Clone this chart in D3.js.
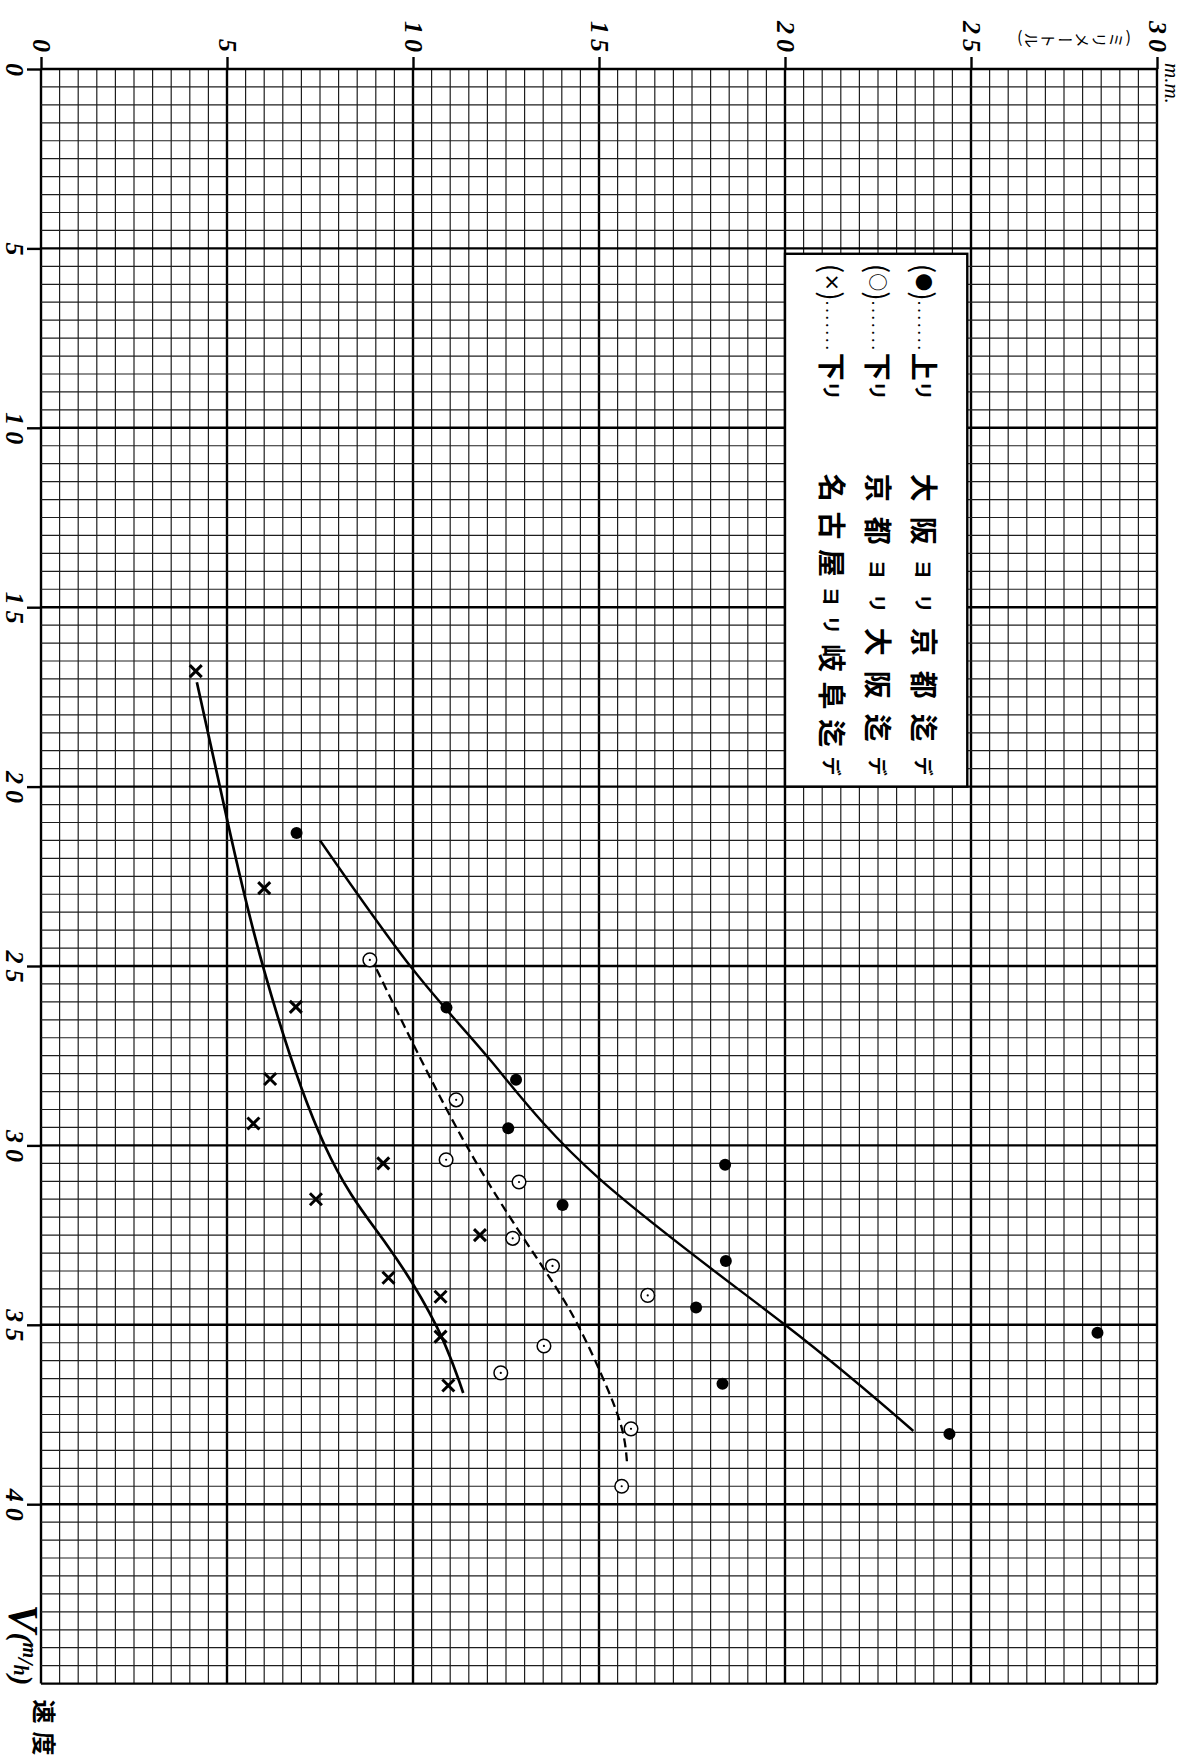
<!DOCTYPE html>
<html>
<head>
<meta charset="utf-8">
<script src="https://cdn.jsdelivr.net/npm/d3@7"></script>
<style>
  body { margin: 0; background: #fff; }
  svg { display: block; background: #fff; }
</style>
</head>
<body>
<svg></svg>
<script>
// the sheet is printed turned: speed V runs down the page, millimetres run across

const mmTicks = [0, 5, 10, 15, 20, 25, 30];
const vTicks = [0, 5, 10, 15, 20, 25, 30, 35, 40];

// (●) 上り 大阪ヨリ京都迄
const upOsakaKyoto = [
  { mm: 6.87, v: 21.29 }, { mm: 10.9, v: 26.16 }, { mm: 12.77, v: 28.17 },
  { mm: 12.56, v: 29.52 }, { mm: 18.39, v: 30.54 }, { mm: 14.02, v: 31.66 },
  { mm: 18.41, v: 33.22 }, { mm: 17.61, v: 34.52 }, { mm: 28.4, v: 35.22 },
  { mm: 18.32, v: 36.64 }, { mm: 24.42, v: 38.04 },
];

// (○) 下り 京都ヨリ大阪迄
const downKyotoOsaka = [
  { mm: 8.84, v: 24.83 }, { mm: 11.16, v: 28.73 }, { mm: 10.89, v: 30.4 },
  { mm: 12.85, v: 31.02 }, { mm: 12.68, v: 32.59 }, { mm: 13.75, v: 33.36 },
  { mm: 16.31, v: 34.18 }, { mm: 13.52, v: 35.59 }, { mm: 12.36, v: 36.34 },
  { mm: 15.86, v: 37.9 }, { mm: 15.61, v: 39.5 },
];

// (×) 下り 名古屋ヨリ岐阜迄
const downNagoyaGifu = [
  { mm: 4.16, v: 16.78 }, { mm: 6.0, v: 22.83 }, { mm: 6.85, v: 26.14 },
  { mm: 6.16, v: 28.15 }, { mm: 5.71, v: 29.39 }, { mm: 9.2, v: 30.5 },
  { mm: 7.39, v: 31.5 }, { mm: 11.8, v: 32.5 }, { mm: 9.34, v: 33.69 },
  { mm: 10.74, v: 34.22 }, { mm: 10.74, v: 35.33 }, { mm: 10.95, v: 36.69 },
];

// hand drawn curves
const curveUp = [
  { mm: 7.5, v: 21.5 }, { mm: 10.0, v: 25.1 }, { mm: 12.1, v: 27.65 },
  { mm: 15.0, v: 30.92 }, { mm: 20.0, v: 35.0 }, { mm: 23.45, v: 37.96 },
];
const curveKyoto = [
  { mm: 9.02, v: 25.09 }, { mm: 11.44, v: 30.01 }, { mm: 13.5, v: 33.41 },
  { mm: 14.46, v: 35.06 }, { mm: 15.12, v: 36.52 }, { mm: 15.61, v: 37.87 },
  { mm: 15.76, v: 38.94 },
];
const curveNagoya = [
  { mm: 4.19, v: 17.09 }, { mm: 5.01, v: 20.95 }, { mm: 6.0, v: 25.13 },
  { mm: 7.63, v: 30.01 }, { mm: 9.29, v: 32.76 }, { mm: 10.64, v: 35.06 },
  { mm: 11.35, v: 36.9 },
];

const legendRows = [
  { sym: "●", dir: "上リ", route: "大阪ヨリ京都迄デ" },
  { sym: "○", dir: "下リ", route: "京都ヨリ大阪迄デ" },
  { sym: "×", dir: "下リ", route: "名古屋ヨリ岐阜迄デ" },
];

const width = 1183,
  height = 1764;

const svg = d3.select("svg").attr("width", width).attr("height", height);

const x = d3.scaleLinear().domain([0, 30]).range([41, 1157]); // mm across
const y = d3.scaleLinear().domain([0, 45]).range([69, 1683.6]); // V down

const serif = "'Liberation Serif', 'DejaVu Serif', serif";
const jp = "'Noto Sans CJK JP', 'Noto Sans CJK SC', sans-serif";

// graph paper, a line every half unit, heavy every five
const grid = svg.append("g").attr("class", "grid");

grid
  .selectAll("line.col")
  .data(d3.range(0, 61).map((i) => i / 2))
  .enter()
  .append("line")
  .attr("class", "col")
  .attr("x1", (d) => x(d))
  .attr("x2", (d) => x(d))
  .attr("y1", y(0))
  .attr("y2", y(45))
  .attr("stroke", (d) => (d % 5 === 0 ? "#000" : "#1e1e1e"))
  .attr("stroke-width", (d) => (d % 5 === 0 ? 2.4 : 1.2));

grid
  .selectAll("line.row")
  .data(d3.range(0, 91).map((i) => i / 2))
  .enter()
  .append("line")
  .attr("class", "row")
  .attr("x1", x(0))
  .attr("x2", x(30))
  .attr("y1", (d) => y(d))
  .attr("y2", (d) => y(d))
  .attr("stroke", (d) => (d % 5 === 0 ? "#000" : "#1e1e1e"))
  .attr("stroke-width", (d) => (d % 5 === 0 ? 2.4 : 1.2));

// mm axis along the top
const mmAxis = svg
  .append("g")
  .attr("class", "mm-axis")
  .attr("transform", `translate(0, ${y(0)})`)
  .call(d3.axisTop(x).tickValues(mmTicks).tickSize(12).tickFormat(d3.format("d")));

mmAxis.select(".domain").remove();
mmAxis.selectAll(".tick line").attr("stroke", "#000").attr("stroke-width", 2.4);
mmAxis
  .selectAll(".tick text")
  .attr("transform", "rotate(90)")
  .attr("x", -12)
  .attr("y", 0)
  .attr("dy", "0.34em")
  .attr("text-anchor", "end")
  .attr("fill", "#000")
  .style("font-family", serif)
  .style("font-style", "italic")
  .style("font-weight", "bold")
  .style("font-size", "26px")
  .style("letter-spacing", "5px");

// speed axis down the left
const vAxis = svg
  .append("g")
  .attr("class", "v-axis")
  .attr("transform", `translate(${x(0)}, 0)`)
  .call(d3.axisLeft(y).tickValues(vTicks).tickSize(14).tickFormat(d3.format("d")));

vAxis.select(".domain").remove();
vAxis.selectAll(".tick line").attr("stroke", "#000").attr("stroke-width", 2.4);
vAxis
  .selectAll(".tick text")
  .attr("transform", "rotate(90)")
  .attr("x", 3)
  .attr("y", 35)
  .attr("dy", 0)
  .attr("text-anchor", "middle")
  .attr("fill", "#000")
  .style("font-family", serif)
  .style("font-style", "italic")
  .style("font-weight", "bold")
  .style("font-size", "26px")
  .style("letter-spacing", "6px");

// unit labels
svg
  .append("text")
  .attr("transform", `translate(${x(30) + 15}, ${y(0) - 6}) rotate(90)`)
  .attr("text-anchor", "start")
  .attr("dominant-baseline", "central")
  .style("font-family", serif)
  .style("font-style", "italic")
  .style("font-size", "21px")
  .text("m.m.");

svg
  .append("text")
  .attr("transform", `translate(${x(29.3)}, 40) rotate(90)`)
  .attr("text-anchor", "start")
  .style("writing-mode", "vertical-rl")
  .style("font-family", jp)
  .style("font-size", "16px")
  .style("letter-spacing", "1px")
  .text("(ミリメートル)");

const vLabel = svg
  .append("text")
  .attr("transform", `translate(23, ${y(45) + 2}) rotate(90)`)
  .attr("text-anchor", "end")
  .attr("dominant-baseline", "central")
  .style("font-family", serif)
  .style("font-style", "italic")
  .style("font-weight", "bold");

vLabel.append("tspan").style("font-size", "42px").text("V");
vLabel.append("tspan").style("font-size", "30px").text("(");
vLabel.append("tspan").style("font-size", "20px").attr("dy", -7).text("m");
vLabel.append("tspan").style("font-size", "23px").attr("dy", 4).text("/");
vLabel.append("tspan").style("font-size", "20px").attr("dy", 5).text("h");
vLabel.append("tspan").style("font-size", "30px").attr("dy", -2).text(")");

svg
  .append("text")
  .attr("transform", `translate(45, ${y(45) + 16}) rotate(90)`)
  .attr("text-anchor", "start")
  .attr("dominant-baseline", "central")
  .style("font-family", jp)
  .style("font-weight", "bold")
  .style("font-size", "24px")
  .style("letter-spacing", "8px")
  .text("速度");

// fitted curves
const line = d3
  .line()
  .x((d) => x(d.mm))
  .y((d) => y(d.v))
  .curve(d3.curveNatural);

const curves = svg.append("g").attr("class", "curves").attr("fill", "none").attr("stroke", "#000");

curves.append("path").attr("d", line(curveUp)).attr("stroke-width", 2.4);
curves
  .append("path")
  .attr("d", line(curveKyoto))
  .attr("stroke-width", 2.3)
  .attr("stroke-dasharray", "9,5");
curves.append("path").attr("d", line(curveNagoya)).attr("stroke-width", 2.7);

// observations
const marks = svg.append("g").attr("class", "marks");

marks
  .selectAll("circle.up")
  .data(upOsakaKyoto)
  .enter()
  .append("circle")
  .attr("class", "up")
  .attr("cx", (d) => x(d.mm))
  .attr("cy", (d) => y(d.v))
  .attr("r", 6)
  .attr("fill", "#000");

const kyoto = marks
  .selectAll("g.kyoto")
  .data(downKyotoOsaka)
  .enter()
  .append("g")
  .attr("class", "kyoto")
  .attr("transform", (d) => `translate(${x(d.mm)}, ${y(d.v)})`);

kyoto.append("circle").attr("r", 6.8).attr("fill", "#fff").attr("stroke", "#000").attr("stroke-width", 1.5);
kyoto.append("circle").attr("r", 1.1).attr("fill", "#000");

const s = 6;
marks
  .selectAll("path.nagoya")
  .data(downNagoyaGifu)
  .enter()
  .append("path")
  .attr("class", "nagoya")
  .attr("transform", (d) => `translate(${x(d.mm)}, ${y(d.v)})`)
  .attr("d", `M${-s},${-s}L${s},${s}M${-s},${s}L${s},${-s}`)
  .attr("stroke", "#000")
  .attr("stroke-width", 3);

// legend box
const legend = svg.append("g").attr("class", "legend");

const boxLeft = x(20),
  boxRight = x(24.9),
  boxTop = y(5.15),
  boxBottom = y(20);

legend
  .append("rect")
  .attr("x", boxLeft)
  .attr("y", boxTop)
  .attr("width", boxRight - boxLeft)
  .attr("height", boxBottom - boxTop)
  .attr("fill", "#fff")
  .attr("stroke", "#000")
  .attr("stroke-width", 2.4);

const small = /[ヨリデ]/;

legendRows.forEach(function (row, i) {
  const cx = boxRight - 42 - i * 46;

  const head = legend
    .append("text")
    .attr("transform", `translate(${cx}, ${boxTop + 10}) rotate(90)`)
    .attr("dominant-baseline", "central")
    .style("font-family", jp)
    .style("font-weight", "bold")
    .style("font-size", "28px");

  head.append("tspan").style("font-weight", "normal").text("(");
  head.append("tspan").style("font-size", "18px").text(row.sym);
  head.append("tspan").style("font-weight", "normal").text(")");
  head
    .append("tspan")
    .style("font-size", "16px")
    .style("font-weight", "normal")
    .style("letter-spacing", "3px")
    .text(".......");
  row.dir.split("").forEach(function (c) {
    head.append("tspan").style("font-size", small.test(c) ? "19px" : "28px").text(c);
  });

  const route = legend
    .append("text")
    .attr("transform", `translate(${cx}, ${boxTop + 220}) rotate(90)`)
    .attr("dominant-baseline", "central")
    .attr("textLength", 302)
    .attr("lengthAdjust", "spacing")
    .style("font-family", jp)
    .style("font-weight", "bold")
    .style("font-size", "28px");

  row.route.split("").forEach(function (c) {
    route.append("tspan").style("font-size", small.test(c) ? "19px" : "28px").text(c);
  });
});
</script>
</body>
</html>
